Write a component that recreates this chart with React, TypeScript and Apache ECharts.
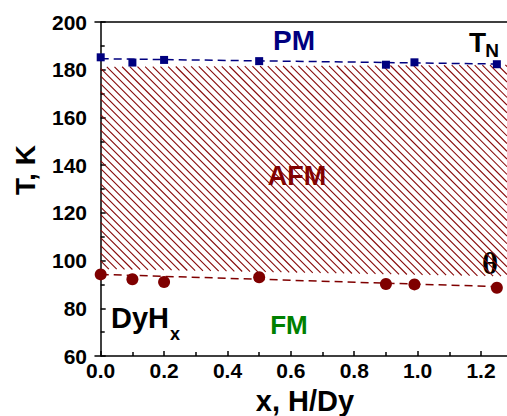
import React, { useEffect, useRef } from "react";
import * as echarts from "echarts";

// ---- data ----
const tnX = [0, 0.1, 0.2, 0.5, 0.9, 0.99, 1.25];
const tnT = [185.2, 183.0, 184.1, 183.6, 182.1, 183.1, 182.3];
const thetaX = [0, 0.1, 0.2, 0.5, 0.9, 0.99, 1.25];
const thetaT = [94.2, 92.2, 91.0, 93.0, 90.2, 90.0, 88.6];
const tnFit = [[0, 184.6], [1.25, 182.4]];
const thetaFit = [[0, 94.2], [1.25, 89.1]];
const afmTop = [[0, 181.2], [1.282, 182.0]];
const afmBottom = [[0, 96.5], [1.282, 93.4]];
const xTickValues = [0, 0.2, 0.4, 0.6, 0.8, 1.0, 1.2];
const xMinorTickValues = [0.1, 0.3, 0.5, 0.7, 0.9, 1.1];
const xMin = -0.018;
const xMax = 1.282;
const yMin = 60;
const yMax = 200;
const yStep = 20;

const FONT = "'Liberation Sans', Arial, sans-serif";
const NAVY = "#00007f";
const MAROON = "#7f0000";
const GREEN = "#008000";

export default function App() {
  const ref = useRef<HTMLDivElement>(null);

  useEffect(() => {
    if (!ref.current) return;
    const chart = echarts.init(ref.current, undefined, { renderer: "svg" });

    const axisLineStyle = { color: "#000", width: 1.5 };

    const hatchRender = (params: any, api: any) => {
      const pT0 = api.coord(afmTop[0]);
      const pT1 = api.coord(afmTop[1]);
      const pB0 = api.coord(afmBottom[0]);
      const pB1 = api.coord(afmBottom[1]);
      const bt = (pT1[1] - pT0[1]) / (pT1[0] - pT0[0]);
      const at = pT0[1] - bt * pT0[0];
      const bb = (pB1[1] - pB0[1]) / (pB1[0] - pB0[0]);
      const ab = pB0[1] - bb * pB0[0];
      const xl = Math.max(pT0[0], pB0[0]);
      const xr = Math.min(pT1[0], pB1[0]);
      const step = 7.7;
      const children: any[] = [];
      const cStart = xl - Math.max(pB0[1], pB1[1]) - step;
      const cEnd = xr - Math.min(pT0[1], pT1[1]) + step;
      for (let c = cStart; c <= cEnd; c += step) {
        let lo = (at + c) / (1 - bt);
        let hi = (ab + c) / (1 - bb);
        lo = Math.max(lo, xl);
        hi = Math.min(hi, xr);
        if (hi - lo > 0.5) {
          children.push({
            type: "line",
            shape: { x1: lo, y1: lo - c, x2: hi, y2: hi - c },
            style: { stroke: "#860808", lineWidth: 1.1 },
          });
        }
      }
      return { type: "group", children };
    };

    const txt = (x: number, y: number, text: string, fontSize: number, fill: string, extra: any = {}) => ({
      type: "text",
      x,
      y,
      ...extra.el,
      style: {
        text,
        fontSize,
        fontWeight: "bold",
        fontFamily: FONT,
        fill,
        align: "center",
        verticalAlign: "middle",
        ...extra.style,
      },
    });

    chart.setOption({
      animation: false,
      backgroundColor: "#fff",
      grid: { left: 95, top: 22, right: 0, bottom: 60, containLabel: false },
      xAxis: [
        {
          type: "value",
          min: xMin,
          max: xMax,
          position: "bottom",
          axisLine: { show: true, lineStyle: axisLineStyle },
          axisTick: {
            show: true,
            inside: true,
            length: 5,
            customValues: xTickValues,
            lineStyle: axisLineStyle,
          },
          axisLabel: {
            show: true,
            customValues: xTickValues,
            formatter: (v: number) => v.toFixed(1),
            fontSize: 21,
            fontWeight: "bold",
            fontFamily: FONT,
            color: "#000",
            margin: 4,
          },
          splitLine: { show: false },
        },
        {
          type: "value",
          min: xMin,
          max: xMax,
          position: "bottom",
          axisLine: { show: false },
          axisTick: {
            show: true,
            inside: true,
            length: 4,
            customValues: xMinorTickValues,
            lineStyle: axisLineStyle,
          },
          axisLabel: { show: false },
          splitLine: { show: false },
        },
        {
          type: "value",
          min: xMin,
          max: xMax,
          position: "top",
          axisLine: { show: true, lineStyle: axisLineStyle },
          axisTick: { show: false },
          axisLabel: { show: false },
          splitLine: { show: false },
        },
      ],
      yAxis: {
        type: "value",
        min: yMin,
        max: yMax,
        interval: yStep,
        axisLine: { show: true, lineStyle: axisLineStyle },
        axisTick: { show: true, inside: true, length: 5, lineStyle: axisLineStyle },
        minorTick: { show: true, splitNumber: 2, length: 4, lineStyle: axisLineStyle },
        axisLabel: {
          fontSize: 21,
          fontWeight: "bold",
          fontFamily: FONT,
          color: "#000",
          margin: 8,
        },
        splitLine: { show: false },
      },
      series: [
        {
          type: "custom",
          xAxisIndex: 0,
          silent: true,
          clip: true,
          data: [[0, 100]],
          renderItem: hatchRender,
        },
        {
          type: "line",
          xAxisIndex: 0,
          data: tnFit,
          showSymbol: false,
          symbol: "none",
          lineStyle: { color: NAVY, width: 1.5, type: [8, 5] },
          silent: true,
        },
        {
          type: "line",
          xAxisIndex: 0,
          data: thetaFit,
          showSymbol: false,
          symbol: "none",
          lineStyle: { color: MAROON, width: 1.5, type: [8, 5] },
          silent: true,
        },
        {
          type: "scatter",
          xAxisIndex: 0,
          data: tnX.map((x, i) => [x, tnT[i]]),
          symbol: "rect",
          symbolSize: 8,
          itemStyle: { color: NAVY, opacity: 1 },
          silent: true,
        },
        {
          type: "scatter",
          xAxisIndex: 0,
          data: thetaX.map((x, i) => [x, thetaT[i]]),
          symbol: "circle",
          symbolSize: 12,
          itemStyle: { color: MAROON, opacity: 1 },
          silent: true,
        },
      ],
      graphic: [
        txt(294, 40, "PM", 28, NAVY),
        txt(477.5, 42, "T", 28, "#000"),
        txt(492, 50, "N", 19, "#000"),
        txt(297, 176, "AFM", 27, "#800000"),
        txt(490, 263, "θ", 31, "#000", { style: { fontFamily: "'Liberation Serif', 'Times New Roman', serif" } }),
        txt(111, 318, "DyH", 29, "#000", { style: { align: "left" } }),
        txt(170, 334, "x", 18, "#000", { style: { align: "left" } }),
        txt(289, 325, "FM", 26, GREEN),
        txt(25, 170, "T, K", 28, "#000", { el: { rotation: Math.PI / 2 } }),
        txt(305, 401, "x, H/Dy", 29, "#000"),
      ],
    });

    return () => {
      chart.dispose();
    };
  }, []);

  return (
    <div
      ref={ref}
      style={{ position: "absolute", left: 0, top: 0, width: 507, height: 416, background: "#fff" }}
    />
  );
}
